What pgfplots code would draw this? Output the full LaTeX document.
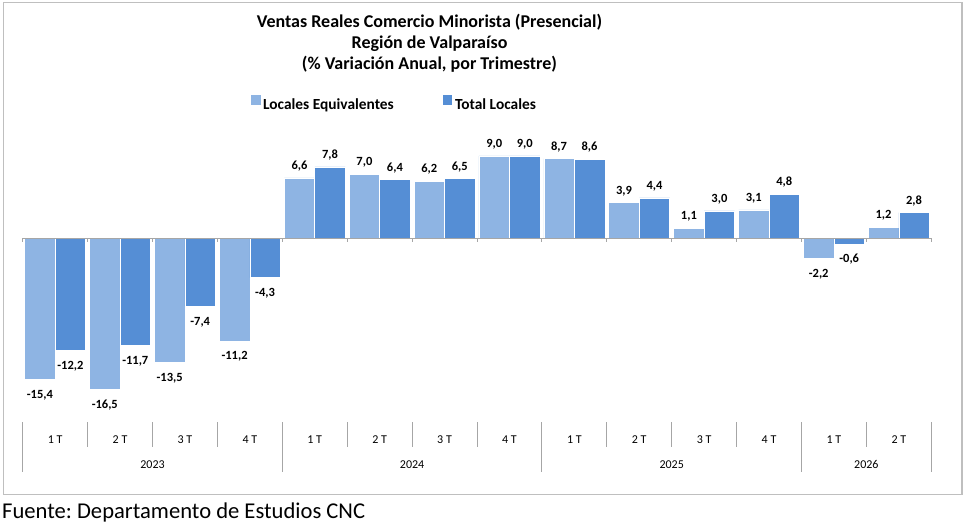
\documentclass[border=0pt]{standalone}
\usepackage{fontspec}
\setmainfont{Carlito}
\usepackage{pgfplots}
\pgfplotsset{compat=1.18}
\definecolor{lightb}{HTML}{8EB4E3}
\definecolor{darkb}{HTML}{558ED5}
\definecolor{sepgray}{HTML}{A6A6A6}
\definecolor{framegray}{HTML}{BFBFBF}
\frenchspacing
\begin{document}
\frenchspacing
\begin{tikzpicture}[x=1pt,y=1pt]
\useasboundingbox (0,0) rectangle (967,526);
\draw[framegray, line width=1.3pt] (3.3,31.7) rectangle (962,523.3);
\node[anchor=base, font=\bfseries\fontsize{18}{22}\selectfont, inner sep=0pt] at (429.5,498.7) {Ventas Reales Comercio Minorista (Presencial)};
\node[anchor=base, font=\bfseries\fontsize{18}{22}\selectfont, inner sep=0pt] at (429.5,477.7) {Región de Valparaíso};
\node[anchor=base, font=\bfseries\fontsize{18}{22}\selectfont, inner sep=0pt] at (429.5,456.7) {(\% Variación Anual, por Trimestre)};
\node[anchor=base west, font=\fontsize{22.6}{27}\selectfont, inner sep=0pt] at (2,7.7) {Fuente: Departamento de Estudios CNC};
\begin{axis}[
  at={(22.7pt,122.73pt)}, anchor=south west,
  scale only axis, width=908.6pt, height=256.6pt,
  xmin=-0.5, xmax=13.5, ymin=-18, ymax=10,
  axis line style={draw=none},
  ytick=\empty,
  xtick={0,...,13},
  xticklabels={1 T,2 T,3 T,4 T,1 T,2 T,3 T,4 T,1 T,2 T,3 T,4 T,1 T,2 T},
  major tick length=0pt,
  xticklabel style={anchor=base, yshift=-40.1pt, font=\fontsize{12}{14}\selectfont, inner sep=0pt},
  extra x ticks={1.5,5.5,9.5,12.5},
  extra x tick labels={2023,2024,2025,2026},
  extra x tick style={xticklabel style={yshift=-25pt}},
  ybar=0pt, bar width=30.5pt,
  clip=false,
  nodes near coords={\rule[-8.5pt]{0pt}{27.5pt}\pgfmathprintnumber[fixed,fixed zerofill,precision=1,use comma,assume math mode=true]{\pgfplotspointmeta}},
  every node near coord/.append style={font=\bfseries\fontsize{12.5}{15}\selectfont, inner sep=0pt, outer sep=0pt, text=black},
  legend columns=2,
  legend style={at={(axis description cs:0.2509,1.1713)}, anchor=west, draw=none, fill=none, inner sep=0pt,
    font=\bfseries\fontsize{15.4}{18}\selectfont, nodes={inner sep=0pt},
    /tikz/every odd column/.append style={column sep=3pt},
    /tikz/every even column/.append style={column sep=49pt}},
]
\addplot[fill=lightb, draw=white, line width=0.6pt,
  legend image code/.code={\fill[lightb] (0pt,0pt) rectangle (8.7pt,9.3pt);}]
  coordinates {(0,-15.4) (1,-16.5) (2,-13.5) (3,-11.2) (4,6.6) (5,7.0) (6,6.2) (7,9.0) (8,8.7) (9,3.9) (10,1.1) (11,3.1) (12,-2.2) (13,1.2)};
\addlegendentry{Locales Equivalentes}
\addplot[fill=darkb, draw=white, line width=0.6pt,
  legend image code/.code={\fill[darkb] (0pt,0pt) rectangle (8.7pt,9.3pt);}]
  coordinates {(0,-12.2) (1,-11.7) (2,-7.4) (3,-4.3) (4,7.8) (5,6.4) (6,6.5) (7,9.0) (8,8.6) (9,4.4) (10,3.0) (11,4.8) (12,-0.6) (13,2.8)};
\addlegendentry{Total Locales}
\draw[sepgray, line width=0.9pt] (axis cs:-0.5,0) -- (axis cs:13.5,0);
\pgfplotsinvokeforeach{-0.5,0.5,...,13.5}{
  \draw[sepgray, line width=0.9pt] (axis cs:#1,0) -- ([yshift=-4pt]axis cs:#1,0);
}
\pgfplotsinvokeforeach{0.5,1.5,2.5,4.5,5.5,6.5,8.5,9.5,10.5,12.5}{
  \draw[sepgray, line width=0.9pt] ([yshift=-19.1pt]axis cs:#1,-18) -- ([yshift=-43.5pt]axis cs:#1,-18);
}
\pgfplotsinvokeforeach{-0.5,3.5,7.5,11.5,13.5}{
  \draw[sepgray, line width=0.9pt] ([yshift=-19.1pt]axis cs:#1,-18) -- ([yshift=-68.5pt]axis cs:#1,-18);
}
\end{axis}
\end{tikzpicture}
\end{document}
